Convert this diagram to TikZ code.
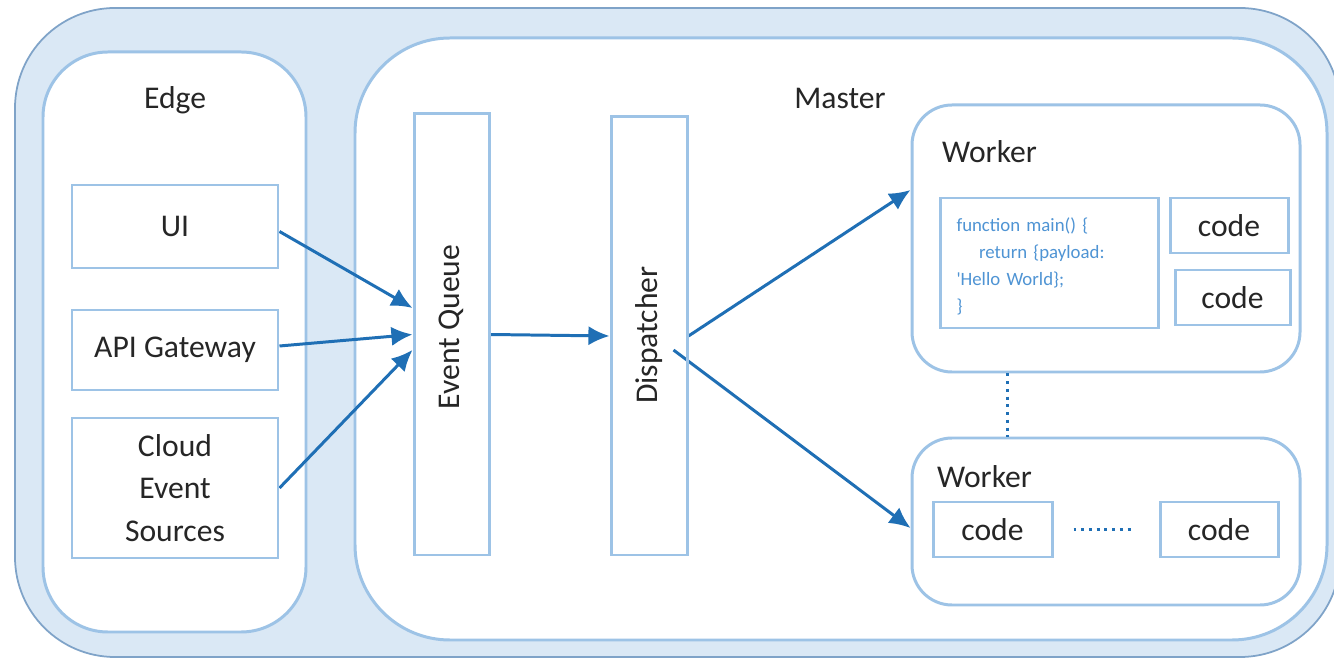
\documentclass[tikz,border=0pt]{standalone}
\usepackage{fontspec}
\setmainfont{Carlito}
\usepackage{xcolor}
\usepackage{tikz}
\usetikzlibrary{arrows.meta}
\definecolor{paleblue}{HTML}{DAE8F5}
\definecolor{frameblue}{HTML}{7FA3C8}
\definecolor{lineblue}{HTML}{9DC3E6}
\definecolor{arrowblue}{HTML}{1F6FB5}
\definecolor{codeblue}{HTML}{4F94D4}
\definecolor{textgray}{HTML}{262626}
\pgfdeclarelayer{background}
\pgfdeclarelayer{nodelayer}
\pgfdeclarelayer{edgelayer}
\pgfsetlayers{background,edgelayer,nodelayer,main}
\tikzstyle{outer style}=[fill=paleblue, draw=frameblue, line width=1pt, shape=rectangle, inner sep=0pt, rounded corners=2cm]
\tikzstyle{lane style}=[fill=white, draw=lineblue, line width=1.7pt, shape=rectangle, inner sep=0pt]
\tikzstyle{box style}=[fill=none, draw=lineblue, line width=1.7pt, shape=rectangle, inner sep=0pt, align=center, text=textgray, font=\fontsize{18}{24}\selectfont]
\tikzstyle{code style}=[box style, text width=3.7cm, align=left, text=codeblue, font=\fontsize{10.7}{15.3}\selectfont]
\tikzstyle{label style}=[text=textgray, font=\fontsize{18}{24}\selectfont]
\tikzstyle{arrow style}=[draw=arrowblue, line width=1.7pt, -{Latex[length=12pt,width=11pt]}]
\tikzstyle{dots style}=[draw=arrowblue, line width=1.7pt, dash pattern=on 1.7pt off 2.7pt]

\begin{document}
\begin{tikzpicture}
	\useasboundingbox (0, 0) rectangle (26.68, 13.22);
	\begin{pgfonlayer}{background}
		\node [style=outer style, minimum width=26.5cm, minimum height=12.98cm] (0) at (13.55, 6.57) {};
		\node [style=lane style, rounded corners=1.3cm, minimum width=5.26cm, minimum height=11.6cm] (1) at (3.49, 6.38) {};
		\node [style=lane style, rounded corners=1.9cm, minimum width=19.44cm, minimum height=12.04cm] (2) at (16.82, 6.44) {};
		\node [style=lane style, rounded corners=0.8cm, minimum width=7.76cm, minimum height=5.34cm] (3) at (22.12, 8.45) {};
		\node [style=lane style, rounded corners=0.8cm, minimum width=7.76cm, minimum height=3.34cm] (4) at (22.12, 2.79) {};
	\end{pgfonlayer}
	\begin{pgfonlayer}{nodelayer}
		\node [style=label style] (5) at (3.5, 11.22) {Edge};
		\node [style=label style] (6) at (16.8, 11.26) {Master};
		\node [style=label style, anchor=west] (7) at (18.72, 10.18) {Worker};
		\node [style=label style, anchor=west] (8) at (18.62, 3.68) {Worker};
		\node [style=box style, minimum width=4.12cm, minimum height=1.66cm] (9) at (3.5, 8.69) {UI};
		\node [style=box style, minimum width=4.12cm, minimum height=1.6cm] (10) at (3.5, 6.22) {API Gateway};
		\node [style=box style, minimum width=4.12cm, minimum height=2.8cm] (11) at (3.5, 3.46) {Cloud\\Event\\Sources};
		\node [style=box style, minimum width=1.5cm, minimum height=8.82cm] (12) at (9.03, 6.53) {};
		\node [style=label style, rotate=90] (13) at (9.03, 6.68) {Event Queue};
		\node [style=box style, minimum width=1.52cm, minimum height=8.76cm] (14) at (12.98, 6.5) {};
		\node [style=label style, rotate=90] (15) at (12.98, 6.52) {Dispatcher};
		\node [style=code style, minimum width=4.36cm, minimum height=2.6cm] (16) at (20.98, 7.96) {\rule{0pt}{0.4cm}function main() \{\\\hspace*{0.45cm}return \{payload:\\\textquotesingle Hello World\};\\\}};
		\node [style=box style, minimum width=2.36cm, minimum height=1.1cm] (17) at (24.58, 8.71) {code};
		\node [style=box style, minimum width=2.3cm, minimum height=1.1cm] (18) at (24.65, 7.27) {code};
		\node [style=box style, minimum width=2.38cm, minimum height=1.1cm] (19) at (19.85, 2.63) {code};
		\node [style=box style, minimum width=2.36cm, minimum height=1.1cm] (20) at (24.38, 2.63) {code};
	\end{pgfonlayer}
	\begin{pgfonlayer}{edgelayer}
		\draw [style=arrow style] ([yshift=-0.1cm]9.east) to ([yshift=0.53cm]12.west);
		\draw [style=arrow style] ([yshift=0.08cm]10.east) to (12.west);
		\draw [style=arrow style] (11.east) to ([yshift=-0.31cm]12.west);
		\draw [style=arrow style] (12.east) to (14.west);
		\draw [style=arrow style] (14.east) to ([yshift=0.97cm]3.west);
		\draw [style=arrow style] ([xshift=-0.3cm, yshift=-0.28cm]14.east) to ([yshift=-0.13cm]4.west);
		\draw [style=dots style] ([xshift=-1.98cm]3.south) to ([xshift=-1.98cm]4.north);
		\draw [style=dots style] ([xshift=0.4cm]19.east) to ([xshift=-0.55cm]20.west);
	\end{pgfonlayer}
\end{tikzpicture}
\end{document}
